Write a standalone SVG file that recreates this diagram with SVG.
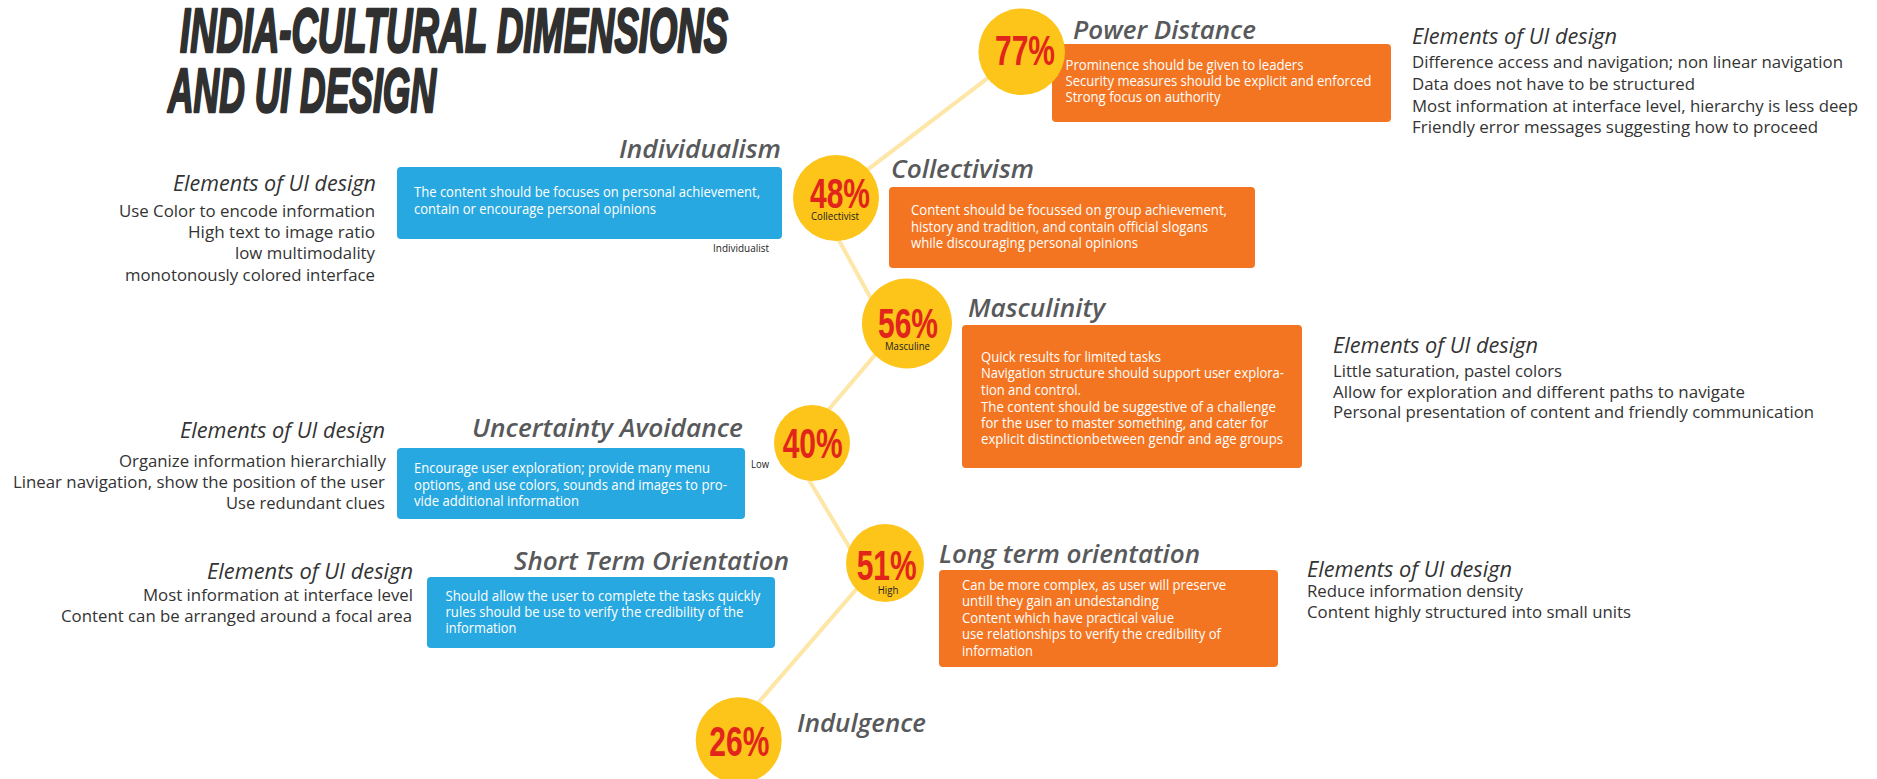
<svg xmlns="http://www.w3.org/2000/svg" width="1877" height="779" viewBox="0 0 1877 779">
<style>
text{font-family:"Open Sans","Noto Sans","Liberation Sans",sans-serif}
.ttl{font-family:"Liberation Sans","DejaVu Sans",sans-serif;font-weight:bold;font-style:italic;font-size:63px;fill:#303030;stroke:#303030;stroke-width:2.5;stroke-linejoin:round}
.hd{font-style:italic;font-weight:600;font-size:26px;fill:#58595b}
.el{font-style:italic;font-weight:400;font-size:21px;fill:#333}
.bd{font-weight:400;font-size:16.5px;fill:#333}
.bx{font-size:14px;fill:#fff}
.pc{font-family:"Liberation Sans","DejaVu Sans",sans-serif;font-weight:bold;font-size:42px;fill:#e1251b}
.sm{font-size:11px;fill:#222}
.org{fill:#f47521}
.blu{fill:#28a8e0}
.cir{fill:#fdc41a}
.con{stroke:#fde6a6;stroke-width:4;fill:none;stroke-linecap:round}
</style>
<rect width="1877" height="779" fill="#fff"/>

<g id="title">
<text class="ttl" x="180" y="52" textLength="548" lengthAdjust="spacingAndGlyphs">INDIA-CULTURAL DIMENSIONS</text>
<text class="ttl" x="168" y="112" textLength="268" lengthAdjust="spacingAndGlyphs">AND UI DESIGN</text>
</g>

<g id="connectors">
<line class="con" x1="1010" y1="61.2" x2="852" y2="181.7"/>
<line class="con" x1="830" y1="224" x2="883" y2="320.5"/>
<line class="con" x1="884" y1="344.4" x2="820" y2="419.8"/>
<line class="con" x1="806" y1="475" x2="860" y2="565"/>
<line class="con" x1="870" y1="573.4" x2="750" y2="712.3"/>
</g>

<g id="power-distance">
<rect class="org" x="1052" y="44" width="339" height="78" rx="4"/>
<text class="hd" x="1073" y="39" textLength="183" lengthAdjust="spacingAndGlyphs">Power Distance</text>
<text class="bx" x="1065.5" y="70" textLength="238" lengthAdjust="spacingAndGlyphs">Prominence should be given to leaders</text>
<text class="bx" x="1065.5" y="86" textLength="306" lengthAdjust="spacingAndGlyphs">Security measures should be explicit and enforced</text>
<text class="bx" x="1065.5" y="102" textLength="155" lengthAdjust="spacingAndGlyphs">Strong focus on authority</text>
<circle class="cir" cx="1021.7" cy="51.7" r="43.3"/>
<text class="pc" x="995" y="65" textLength="60" lengthAdjust="spacingAndGlyphs">77%</text>
</g>

<g id="power-distance-ui">
<text class="el" x="1412" y="44" textLength="205" lengthAdjust="spacingAndGlyphs">Elements of UI design</text>
<text class="bd" x="1412" y="68" textLength="431" lengthAdjust="spacingAndGlyphs">Difference access and navigation; non linear navigation</text>
<text class="bd" x="1412" y="90" textLength="283" lengthAdjust="spacingAndGlyphs">Data does not have to be structured</text>
<text class="bd" x="1412" y="112" textLength="446" lengthAdjust="spacingAndGlyphs">Most information at interface level, hierarchy is less deep</text>
<text class="bd" x="1412" y="133" textLength="406" lengthAdjust="spacingAndGlyphs">Friendly error messages suggesting how to proceed</text>
</g>

<g id="individualism">
<text class="hd" x="619" y="158" textLength="162" lengthAdjust="spacingAndGlyphs">Individualism</text>
<rect class="blu" x="397" y="167" width="385" height="72" rx="4"/>
<text class="bx" x="414" y="197" textLength="346" lengthAdjust="spacingAndGlyphs">The content should be focuses on personal achievement,</text>
<text class="bx" x="414" y="214" textLength="242" lengthAdjust="spacingAndGlyphs">contain or encourage personal opinions</text>
<text class="sm" x="713" y="252" textLength="56" lengthAdjust="spacingAndGlyphs">Individualist</text>
</g>

<g id="individualism-ui">
<text class="el" x="173" y="191" textLength="203" lengthAdjust="spacingAndGlyphs">Elements of UI design</text>
<text class="bd" x="119" y="217" textLength="256" lengthAdjust="spacingAndGlyphs">Use Color to encode information</text>
<text class="bd" x="188" y="238" textLength="187" lengthAdjust="spacingAndGlyphs">High text to image ratio</text>
<text class="bd" x="235" y="259" textLength="140" lengthAdjust="spacingAndGlyphs">low multimodality</text>
<text class="bd" x="125" y="281" textLength="250" lengthAdjust="spacingAndGlyphs">monotonously colored interface</text>
</g>

<g id="collectivism">
<text class="hd" x="891" y="178" textLength="143" lengthAdjust="spacingAndGlyphs">Collectivism</text>
<rect class="org" x="889" y="187" width="366" height="81" rx="4"/>
<text class="bx" x="911" y="215" textLength="316" lengthAdjust="spacingAndGlyphs">Content should be focussed on group achievement,</text>
<text class="bx" x="911" y="232" textLength="297" lengthAdjust="spacingAndGlyphs">history and tradition, and contain official slogans</text>
<text class="bx" x="911" y="248" textLength="227" lengthAdjust="spacingAndGlyphs">while discouraging personal opinions</text>
<circle class="cir" cx="836" cy="198" r="43"/>
<text class="pc" x="810" y="208" textLength="60" lengthAdjust="spacingAndGlyphs">48%</text>
<text class="sm" x="811" y="220" textLength="48" lengthAdjust="spacingAndGlyphs">Collectivist</text>
</g>

<g id="masculinity">
<text class="hd" x="968" y="317" textLength="137" lengthAdjust="spacingAndGlyphs">Masculinity</text>
<rect class="org" x="962" y="325" width="340" height="143" rx="4"/>
<text class="bx" x="981" y="362" textLength="180" lengthAdjust="spacingAndGlyphs">Quick results for limited tasks</text>
<text class="bx" x="981" y="378" textLength="303" lengthAdjust="spacingAndGlyphs">Navigation structure should support user explora-</text>
<text class="bx" x="981" y="395" textLength="100" lengthAdjust="spacingAndGlyphs">tion and control.</text>
<text class="bx" x="981" y="412" textLength="295" lengthAdjust="spacingAndGlyphs">The content should be suggestive of a challenge</text>
<text class="bx" x="981" y="428" textLength="287" lengthAdjust="spacingAndGlyphs">for the user to master something, and cater for</text>
<text class="bx" x="981" y="444" textLength="302" lengthAdjust="spacingAndGlyphs">explicit distinctionbetween gendr and age groups</text>
<circle class="cir" cx="907" cy="323.5" r="45"/>
<text class="pc" x="878" y="337.7" textLength="60" lengthAdjust="spacingAndGlyphs">56%</text>
<text class="sm" x="885" y="349.5" textLength="45" lengthAdjust="spacingAndGlyphs">Masculine</text>
</g>

<g id="masculinity-ui">
<text class="el" x="1333" y="353" textLength="205" lengthAdjust="spacingAndGlyphs">Elements of UI design</text>
<text class="bd" x="1333" y="377" textLength="229" lengthAdjust="spacingAndGlyphs">Little saturation, pastel colors</text>
<text class="bd" x="1333" y="398" textLength="412" lengthAdjust="spacingAndGlyphs">Allow for exploration and different paths to navigate</text>
<text class="bd" x="1333" y="418" textLength="481" lengthAdjust="spacingAndGlyphs">Personal presentation of content and friendly communication</text>
</g>

<g id="uncertainty-avoidance">
<text class="hd" x="472" y="437" textLength="271" lengthAdjust="spacingAndGlyphs">Uncertainty Avoidance</text>
<rect class="blu" x="397" y="448" width="348" height="71" rx="4"/>
<text class="bx" x="414" y="473" textLength="296" lengthAdjust="spacingAndGlyphs">Encourage user exploration; provide many menu</text>
<text class="bx" x="414" y="490" textLength="313" lengthAdjust="spacingAndGlyphs">options, and use colors, sounds and images to pro-</text>
<text class="bx" x="414" y="506" textLength="165" lengthAdjust="spacingAndGlyphs">vide additional information</text>
<text class="sm" x="751" y="468" textLength="18" lengthAdjust="spacingAndGlyphs">Low</text>
<circle class="cir" cx="812" cy="443" r="38"/>
<text class="pc" x="782.7" y="458" textLength="60" lengthAdjust="spacingAndGlyphs">40%</text>
</g>

<g id="uncertainty-avoidance-ui">
<text class="el" x="180" y="438" textLength="205" lengthAdjust="spacingAndGlyphs">Elements of UI design</text>
<text class="bd" x="119" y="467" textLength="267" lengthAdjust="spacingAndGlyphs">Organize information hierarchially</text>
<text class="bd" x="13" y="488" textLength="372" lengthAdjust="spacingAndGlyphs">Linear navigation, show the position of the user</text>
<text class="bd" x="226" y="509" textLength="159" lengthAdjust="spacingAndGlyphs">Use redundant clues</text>
</g>

<g id="short-term-orientation">
<text class="hd" x="514" y="570" textLength="275" lengthAdjust="spacingAndGlyphs">Short Term Orientation</text>
<rect class="blu" x="427" y="577" width="348" height="71" rx="4"/>
<text class="bx" x="445.5" y="601" textLength="315" lengthAdjust="spacingAndGlyphs">Should allow the user to complete the tasks quickly</text>
<text class="bx" x="445.5" y="617" textLength="298" lengthAdjust="spacingAndGlyphs">rules should be use to verify the credibility of the</text>
<text class="bx" x="445.5" y="633" textLength="71" lengthAdjust="spacingAndGlyphs">information</text>
</g>

<g id="short-term-orientation-ui">
<text class="el" x="207" y="579" textLength="206" lengthAdjust="spacingAndGlyphs">Elements of UI design</text>
<text class="bd" x="143" y="601" textLength="270" lengthAdjust="spacingAndGlyphs">Most information at interface level</text>
<text class="bd" x="61" y="622" textLength="351" lengthAdjust="spacingAndGlyphs">Content can be arranged around a focal area</text>
</g>

<g id="long-term-orientation">
<text class="hd" x="939" y="563" textLength="261" lengthAdjust="spacingAndGlyphs">Long term orientation</text>
<rect class="org" x="939" y="570" width="339" height="97" rx="4"/>
<text class="bx" x="962" y="590" textLength="264" lengthAdjust="spacingAndGlyphs">Can be more complex, as user will preserve</text>
<text class="bx" x="962" y="606" textLength="197" lengthAdjust="spacingAndGlyphs">untill they gain an undestanding</text>
<text class="bx" x="962" y="623" textLength="212" lengthAdjust="spacingAndGlyphs">Content which have practical value</text>
<text class="bx" x="962" y="639" textLength="259" lengthAdjust="spacingAndGlyphs">use relationships to verify the credibility of</text>
<text class="bx" x="962" y="656" textLength="71" lengthAdjust="spacingAndGlyphs">information</text>
<circle class="cir" cx="885" cy="563" r="39"/>
<text class="pc" x="856.7" y="580" textLength="60" lengthAdjust="spacingAndGlyphs">51%</text>
<text class="sm" x="877.7" y="594" textLength="20.6" lengthAdjust="spacingAndGlyphs">High</text>
</g>

<g id="long-term-orientation-ui">
<text class="el" x="1307" y="577" textLength="205" lengthAdjust="spacingAndGlyphs">Elements of UI design</text>
<text class="bd" x="1307" y="597" textLength="216" lengthAdjust="spacingAndGlyphs">Reduce information density</text>
<text class="bd" x="1307" y="618" textLength="324" lengthAdjust="spacingAndGlyphs">Content highly structured into small units</text>
</g>

<g id="indulgence">
<circle class="cir" cx="738.7" cy="740.3" r="43"/>
<text class="pc" x="709.3" y="755.7" textLength="60" lengthAdjust="spacingAndGlyphs">26%</text>
<text class="hd" x="797" y="732" textLength="129" lengthAdjust="spacingAndGlyphs">Indulgence</text>
</g>
</svg>
